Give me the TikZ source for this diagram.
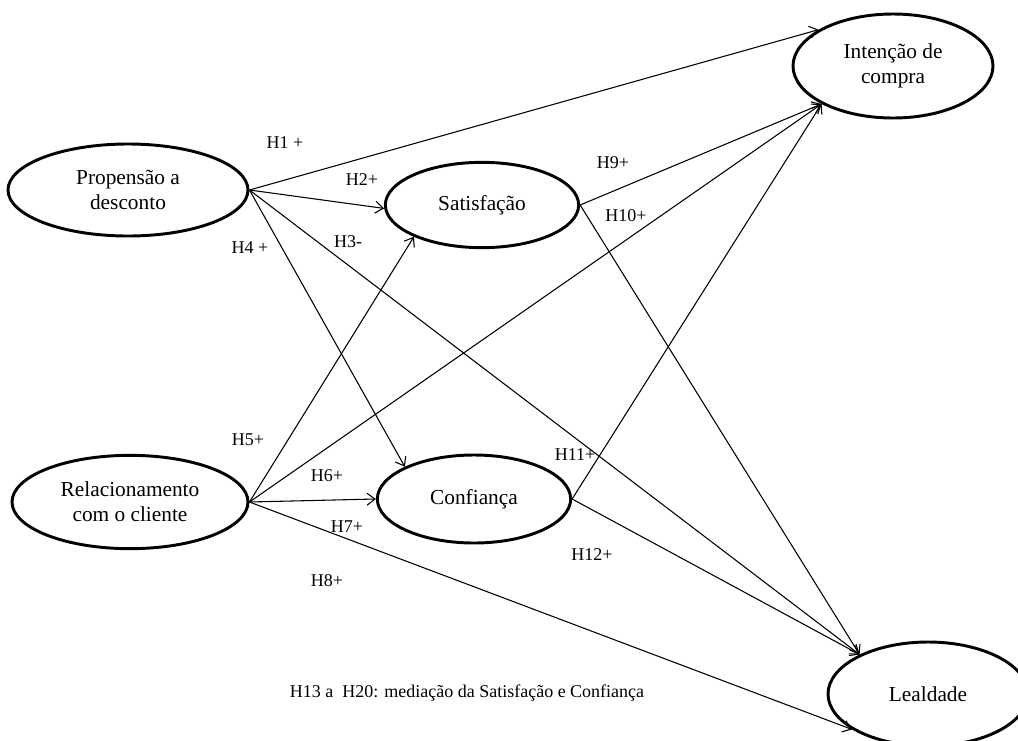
\documentclass[tikz,border=0pt]{standalone}
\usepackage{fontspec}
\setmainfont{Liberation Serif}
\usetikzlibrary{arrows.meta,shapes.geometric}

\begin{document}
\begin{tikzpicture}[x=0.75pt,y=-0.75pt,
construct/.style={ellipse,draw,line width=2.2pt,inner sep=0pt,align=center,
font=\fontsize{16}{19}\selectfont},
hyp/.style={-{Straight Barb[length=6pt,width=9pt]},line width=0.8pt},
lab/.style={inner sep=0pt,font=\fontsize{13.5}{16}\selectfont}]
\useasboundingbox (0,0) rectangle (1018,740);
\node[construct,minimum width=180pt,minimum height=69pt] (prop) at (128,190) {Propensão a\\desconto};
\node[construct,minimum width=177pt,minimum height=70pt] (rel) at (130,502) {Relacionamento\\com o cliente};
\node[construct,minimum width=145pt,minimum height=64pt] (sat) at (482,205) {Satisfação};
\node[construct,minimum width=145pt,minimum height=66pt] (conf) at (474,499) {Confiança};
\node[construct,minimum width=150pt,minimum height=78pt] (int) at (893,66) {Intenção de\\compra};
\node[construct,minimum width=150pt,minimum height=78pt] (leal) at (928,694) {Lealdade};
% hipoteses
\draw[hyp] (prop.east)--(int.154);
\draw[hyp] (prop.east)--(sat.182);
\draw[hyp] (prop.east)--(leal.150);
\draw[hyp] (prop.east)--(conf.155);
\draw[hyp] (rel.east)--(sat.205);
\draw[hyp] (rel.east)--(int.208);
\draw[hyp] (rel.east)--(conf.180);
\draw[hyp] (rel.east)--(leal.205);
\draw[hyp] (sat.east)--(int.208);
\draw[hyp] (sat.east)--(leal.150);
\draw[hyp] (conf.east)--(int.208);
\draw[hyp] (conf.east)--(leal.150);
\node[lab] (h1) at (285,143) {H1 +};
\node[lab] (h2) at (362,180) {H2+};
\node[lab] (h3) at (348,242) {H3-};
\node[lab] (h4) at (250,248) {H4 +};
\node[lab] (h5) at (248,440) {H5+};
\node[lab] (h6) at (327,476) {H6+};
\node[lab] (h7) at (347,527) {H7+};
\node[lab] (h8) at (327,581) {H8+};
\node[lab] (h9) at (613,163) {H9+};
\node[lab] (h10) at (626,216) {H10+};
\node[lab] (h11) at (575,455) {H11+};
\node[lab] (h12) at (592,555) {H12+};
\node[lab] (med) at (467,693) {H13 a~ H20: mediação da Satisfação e Confiança};
\end{tikzpicture}
\end{document}
